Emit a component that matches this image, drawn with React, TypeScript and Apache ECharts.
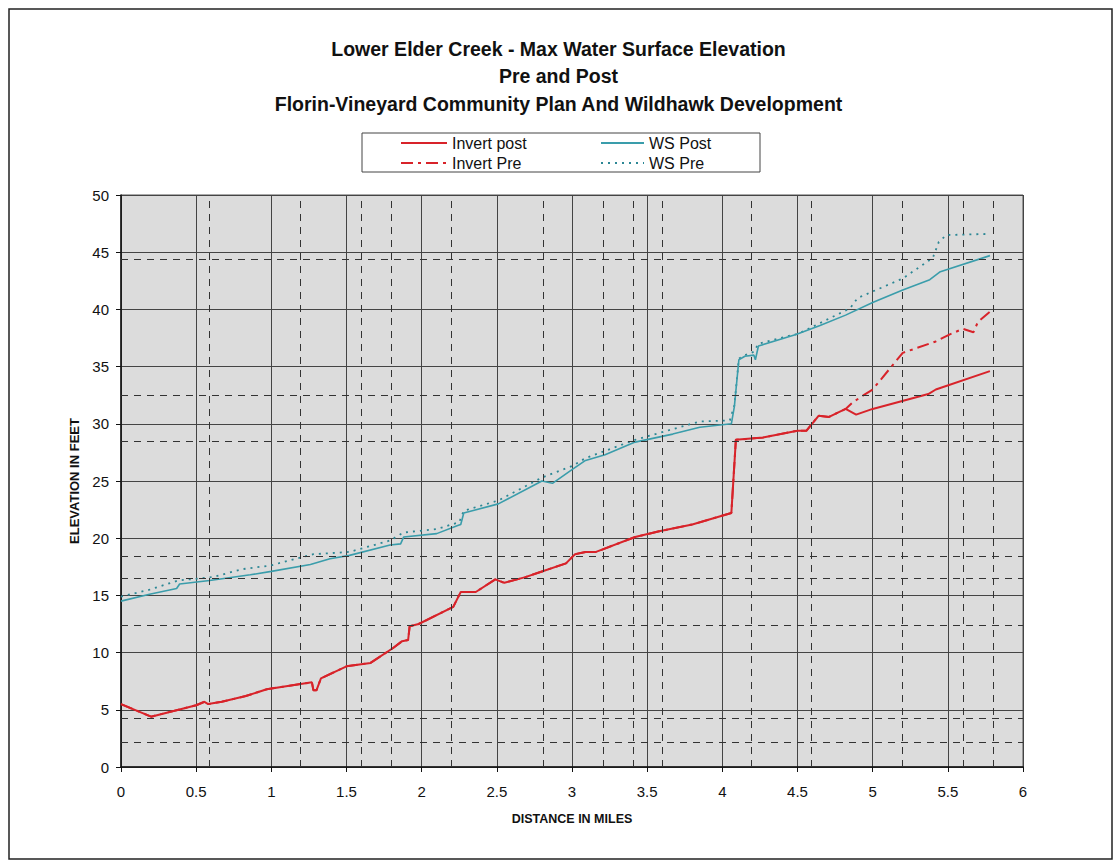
import React, { useEffect, useRef } from "react";
import * as echarts from "echarts";

// ---- data (distance in miles, elevation in feet) ----
const invertPostX = [0, 0.2, 0.5, 0.555, 0.58, 0.67, 0.83, 0.97, 1.12, 1.27, 1.28, 1.3, 1.33, 1.5, 1.66, 1.81, 1.87, 1.91, 1.92, 1.98, 2.21, 2.26, 2.36, 2.49, 2.55, 2.69, 2.78, 2.96, 3.02, 3.09, 3.16, 3.42, 3.58, 3.8, 4.06, 4.09, 4.27, 4.5, 4.56, 4.64, 4.71, 4.82, 4.89, 5.0, 5.37, 5.42, 5.78];
const invertPostY = [5.5, 4.4, 5.4, 5.7, 5.5, 5.7, 6.2, 6.8, 7.1, 7.4, 6.7, 6.7, 7.75, 8.8, 9.1, 10.4, 11.0, 11.1, 12.3, 12.5, 14.0, 15.3, 15.3, 16.4, 16.1, 16.6, 17.0, 17.8, 18.6, 18.8, 18.8, 20.1, 20.6, 21.2, 22.2, 28.6, 28.8, 29.4, 29.4, 30.7, 30.6, 31.3, 30.8, 31.3, 32.6, 33.0, 34.6];

const invertPreX = [0, 0.2, 0.5, 0.555, 0.58, 0.67, 0.83, 0.97, 1.12, 1.27, 1.28, 1.3, 1.33, 1.5, 1.66, 1.81, 1.87, 1.91, 1.92, 1.98, 2.21, 2.26, 2.36, 2.49, 2.55, 2.69, 2.78, 2.96, 3.02, 3.09, 3.16, 3.42, 3.58, 3.8, 4.06, 4.09, 4.27, 4.5, 4.56, 4.64, 4.71, 4.82, 4.87, 4.94, 5.0, 5.2, 5.42, 5.51, 5.6, 5.67, 5.7, 5.79];
const invertPreY = [5.5, 4.4, 5.4, 5.7, 5.5, 5.7, 6.2, 6.8, 7.1, 7.4, 6.7, 6.7, 7.75, 8.8, 9.1, 10.4, 11.0, 11.1, 12.3, 12.5, 14.0, 15.3, 15.3, 16.4, 16.1, 16.6, 17.0, 17.8, 18.6, 18.8, 18.8, 20.1, 20.6, 21.2, 22.2, 28.6, 28.8, 29.4, 29.4, 30.7, 30.6, 31.3, 31.9, 32.5, 33.0, 36.2, 37.2, 37.8, 38.3, 38.0, 38.9, 39.9];

const wsPostX = [0, 0.19, 0.37, 0.39, 0.59, 0.86, 1.0, 1.26, 1.39, 1.52, 1.79, 1.86, 1.88, 2.1, 2.24, 2.26, 2.28, 2.51, 2.8, 2.87, 3.0, 3.09, 3.22, 3.42, 3.67, 3.85, 4.06, 4.08, 4.11, 4.15, 4.21, 4.22, 4.24, 4.49, 4.65, 4.82, 5.0, 5.2, 5.38, 5.45, 5.78];
const wsPostY = [14.5, 15.1, 15.6, 16.0, 16.3, 16.8, 17.1, 17.7, 18.2, 18.5, 19.4, 19.5, 20.1, 20.4, 21.1, 21.2, 22.2, 23.0, 25.0, 24.8, 26.0, 26.8, 27.3, 28.4, 29.1, 29.7, 30.0, 31.5, 35.6, 35.9, 36.0, 35.6, 36.8, 37.8, 38.6, 39.5, 40.6, 41.7, 42.6, 43.3, 44.7];

const wsPreX = [0, 0.19, 0.38, 0.61, 0.81, 0.99, 1.28, 1.52, 1.79, 1.88, 2.1, 2.25, 2.28, 2.51, 2.8, 3.0, 3.09, 3.42, 3.85, 4.05, 4.08, 4.11, 4.15, 4.21, 4.24, 4.51, 4.85, 4.9, 5.2, 5.4, 5.44, 5.49, 5.78];
const wsPreY = [14.9, 15.5, 16.3, 16.6, 17.3, 17.6, 18.6, 18.8, 19.8, 20.5, 20.8, 21.4, 22.4, 23.3, 25.3, 26.3, 27.0, 28.6, 30.2, 30.3, 31.6, 35.7, 36.0, 36.3, 37.0, 37.9, 40.1, 41.0, 42.7, 44.5, 45.9, 46.5, 46.6];

// overlaid dashed reference grid
const dashedVerticalX = [0.59, 1.19, 1.6, 1.8, 2.2, 2.81, 3.21, 3.41, 3.6, 4.19, 4.59, 5.2, 5.6, 5.8];
const dashedHorizontalY = [44.4, 32.5, 28.5, 18.4, 16.5, 12.4, 4.3, 2.2];

const titleLines = [
  "Lower Elder Creek - Max Water Surface Elevation",
  "Pre and Post",
  "Florin-Vineyard Community Plan And Wildhawk Development",
];

const pair = (xs: number[], ys: number[]) => xs.map((x, i) => [x, ys[i]]);

const FONT = "'Liberation Sans', Arial, sans-serif";
const RED = "#d8232a";
const TEAL = "#3a9dab";
const TEAL_DARK = "#2c8795";

export default function App() {
  const ref = useRef<HTMLDivElement>(null);
  useEffect(() => {
    if (!ref.current) return;
    const chart = echarts.init(ref.current, undefined, { renderer: "svg" });
    const legendCommon = {
      orient: "vertical",
      top: 135,
      padding: 0,
      itemHeight: 14,
      itemGap: 4,
      itemStyle: { opacity: 0 },
      textStyle: { fontSize: 16, color: "#111", fontFamily: FONT },
    };
    chart.setOption({
      animation: false,
      backgroundColor: "#ffffff",
      textStyle: { fontFamily: FONT },
      title: {
        text: titleLines.join("\n"),
        left: "center",
        top: 30,
        textStyle: { fontSize: 19.5, fontWeight: "bold", color: "#111", lineHeight: 27.5, fontFamily: FONT },
      },
      legend: [
        { ...legendCommon, data: ["Invert post", "Invert Pre"], left: 400, itemWidth: 46 },
        { ...legendCommon, data: ["WS Post", "WS Pre"], left: 600, itemWidth: 43 },
      ],
      graphic: [
        {
          type: "rect",
          shape: { x: 9, y: 9, width: 1103, height: 850 },
          style: { fill: "none", stroke: "#222", lineWidth: 1.5 },
          silent: true,
        },
        {
          type: "rect",
          shape: { x: 362, y: 133, width: 398, height: 39 },
          style: { fill: "none", stroke: "#444", lineWidth: 1 },
          silent: true,
        },
      ],
      grid: {
        left: 121,
        right: 94,
        top: 195,
        bottom: 96,
        show: true,
        backgroundColor: "#dcdcdc",
        borderColor: "#555",
        borderWidth: 1,
      },
      xAxis: {
        type: "value",
        min: 0,
        max: 6,
        interval: 0.5,
        name: "DISTANCE IN MILES",
        nameLocation: "middle",
        nameGap: 45,
        nameTextStyle: { fontSize: 12.5, fontWeight: "bold", color: "#111", fontFamily: FONT },
        axisLine: { lineStyle: { color: "#111", width: 1.5 } },
        axisTick: { show: true, length: 5, lineStyle: { color: "#111" } },
        axisLabel: { fontSize: 15, color: "#111", margin: 17, fontFamily: FONT },
        splitLine: { show: true, lineStyle: { color: "#444", width: 1 } },
      },
      yAxis: {
        type: "value",
        min: 0,
        max: 50,
        interval: 5,
        name: "ELEVATION IN FEET",
        nameLocation: "middle",
        nameGap: 40,
        nameTextStyle: { fontSize: 13, fontWeight: "bold", color: "#111", fontFamily: FONT },
        axisLine: { show: true, lineStyle: { color: "#111", width: 1.5 } },
        axisTick: { show: true, length: 5, lineStyle: { color: "#111" } },
        axisLabel: { fontSize: 15, color: "#111", margin: 12, fontFamily: FONT },
        splitLine: { show: true, lineStyle: { color: "#444", width: 1 } },
      },
      series: [
        {
          name: "reference",
          type: "line",
          data: [],
          silent: true,
          markLine: {
            silent: true,
            symbol: "none",
            label: { show: false },
            lineStyle: { color: "#333", width: 1, type: [7, 6] },
            data: [
              ...dashedVerticalX.map((x) => ({ xAxis: x })),
              ...dashedHorizontalY.map((y) => ({ yAxis: y })),
            ],
          },
        },
        {
          name: "WS Pre",
          type: "line",
          data: pair(wsPreX, wsPreY),
          symbol: "none",
          color: TEAL_DARK,
          lineStyle: { color: TEAL_DARK, width: 1.8, type: [2, 5] },
        },
        {
          name: "WS Post",
          type: "line",
          data: pair(wsPostX, wsPostY),
          symbol: "none",
          color: TEAL,
          lineStyle: { color: TEAL, width: 1.6, type: "solid" },
        },
        {
          name: "Invert Pre",
          type: "line",
          data: pair(invertPreX, invertPreY),
          symbol: "none",
          color: RED,
          lineStyle: { color: RED, width: 2, type: [12, 5, 3, 5] },
        },
        {
          name: "Invert post",
          type: "line",
          data: pair(invertPostX, invertPostY),
          symbol: "none",
          color: RED,
          lineStyle: { color: RED, width: 2, type: "solid" },
        },
      ],
    });
    return () => chart.dispose();
  }, []);
  return (
    <div
      ref={ref}
      style={{ position: "fixed", left: 0, top: 0, width: 1117, height: 863 }}
    />
  );
}
